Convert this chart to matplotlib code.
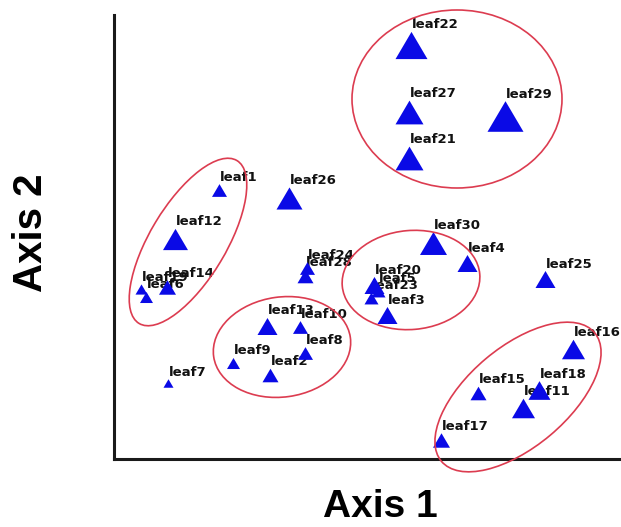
import matplotlib
matplotlib.use("Agg")
import matplotlib.pyplot as plt
from matplotlib.patches import Ellipse

# Ordination scores for each leaf sample
labels = ["leaf22", "leaf27", "leaf21", "leaf29", "leaf1", "leaf26", "leaf12",
          "leaf14", "leaf19", "leaf6", "leaf13", "leaf10", "leaf8", "leaf9",
          "leaf2", "leaf7", "leaf24", "leaf28", "leaf30", "leaf4", "leaf20",
          "leaf5", "leaf23", "leaf3", "leaf25", "leaf16", "leaf18", "leaf11",
          "leaf15", "leaf17"]
axis1 = [297, 295, 295, 391, 105, 175, 61, 53, 27, 32, 153, 186, 191, 119,
         156, 54, 193, 191, 319, 353, 260, 264, 257, 273, 431, 459, 425, 409,
         364, 327]
axis2 = [414, 347, 301, 343, 269, 261, 220, 172, 170, 162, 133, 132, 106, 96,
         84, 76, 191, 183, 216, 196, 174, 168, 161, 144, 180, 110, 69, 51,
         66, 19]
# Variable shown by symbol size
weight = [32, 28, 28, 36, 15, 26, 25, 17, 12, 13, 20, 15, 15, 13, 16, 10, 15,
          16, 27, 20, 20, 14, 14, 20, 20, 23, 22, 23, 16, 17]

# Group outlines: centre x, centre y, width, height, angle
groups = [
    (343, 360, 210, 178, 0),
    (74, 217, 190, 76, 59),
    (168, 112, 138, 100, 8),
    (297, 179, 138, 99, 5),
    (404, 62, 200, 100, 40),
]

W, H = 621, 527
fig = plt.figure(figsize=(W / 100, H / 100), dpi=100)
left, right, top, bottom = 114, 621, 15, 459
ax = fig.add_axes([left / W, 1 - bottom / H, (right - left) / W, (bottom - top) / H])
ax.set_xlim(0, right - left)
ax.set_ylim(0, bottom - top)

for side in ("top", "right"):
    ax.spines[side].set_visible(False)
for side in ("left", "bottom"):
    ax.spines[side].set_linewidth(2.2)
    ax.spines[side].set_color("#1a1a1a")
ax.set_xticks([])
ax.set_yticks([])

tri = [(-1, -0.85), (1, -0.85), (0, 0.85), (-1, -0.85)]
px2pt = 72 / 100

for name, x, y, w in zip(labels, axis1, axis2, weight):
    ms = w * px2pt
    ax.scatter([x], [y], marker=tri, s=ms ** 2, color="#0a0ae6",
               linewidths=0, zorder=3, clip_on=False)
    ax.annotate(name, (x, y), xytext=(1 * px2pt, (0.85 * w / 2 + 3) * px2pt),
                textcoords="offset points", ha="left", va="baseline",
                fontsize=9.5, fontweight="bold", family="DejaVu Sans",
                color="#111111", zorder=2, annotation_clip=False)

for cx, cy, ew, eh, ang in groups:
    ax.add_patch(Ellipse((cx, cy), ew, eh, angle=ang, fill=False,
                         edgecolor="#dc3c50", linewidth=1.2, zorder=4,
                         clip_on=False))

fig.text(380 / W, 1 - 507 / H, "Axis 1", ha="center", va="center",
         fontsize=28, fontweight="bold", family="Liberation Sans")
fig.text(31 / W, 1 - 233 / H, "Axis 2", ha="center", va="center",
         rotation=90, fontsize=29, fontweight="bold", family="Liberation Sans")

fig.savefig("out.png", dpi=100)
